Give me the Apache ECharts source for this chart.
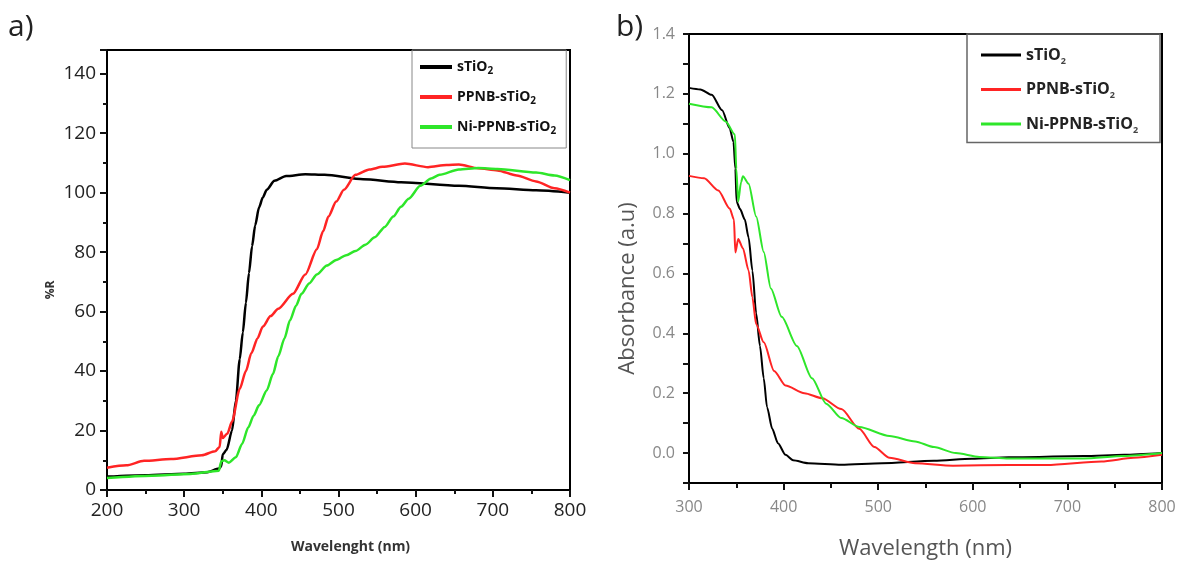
<!DOCTYPE html>
<html>
<head>
<meta charset="utf-8">
<script src="https://cdn.jsdelivr.net/npm/echarts@6/dist/echarts.min.js"></script>
<style>
    html, body { margin: 0; padding: 0; background: #fff; }
    #chart { width: 1183px; height: 565px; }
</style>
</head>
<body>
<div id="chart"></div>
<script>
// series names (shared by both panels)
const seriesNames = ['sTiO2', 'PPNB-sTiO2', 'Ni-PPNB-sTiO2']
const lineColors = ['#000000', '#ff2424', '#2ee62a']

// a) reflectance, %R vs wavelength (nm)
const reflBlack = [
    [200, 4.5], [250, 5], [300, 5.5], [330, 6], [345, 7.2], [348, 8], [350, 12], [355, 13.5],
    [362, 20], [367, 30], [372, 44], [376, 53], [380, 63], [384, 73], [388, 82], [392, 89],
    [397, 95], [402, 98.5], [407, 101], [417, 104], [432, 105.6], [457, 106.2], [482, 106],
    [532, 104.5], [581, 103.5], [656, 102.3], [705, 101.5], [756, 100.8], [800, 100]
]
const reflRed = [
    [200, 7.5], [225, 8.3], [248, 9.8], [283, 10.4], [323, 11.7], [340, 13], [346, 14.5],
    [348, 19.6], [350, 17.5], [356, 19], [362, 23], [372, 34], [380, 40], [387, 46], [395, 51],
    [402, 55], [412, 58.5], [422, 61], [441, 66], [457, 72.5], [472, 81], [480, 87], [487, 92],
    [497, 97], [507, 101], [522, 106], [540, 107.8], [557, 108.7], [586, 109.8], [616, 108.6],
    [640, 109.3], [656, 109.5], [681, 108.2], [706, 107.5], [731, 105.8], [756, 103.8], [780, 101.5], [800, 100]
]
const reflGreen = [
    [200, 4], [258, 4.8], [308, 5.4], [345, 6.5], [348, 9.6], [352, 10], [358, 9.2], [367, 11],
    [375, 15.5], [383, 21], [390, 25], [397, 28.5], [407, 33.5], [415, 39], [422, 45], [430, 51],
    [437, 57], [445, 62], [452, 66], [462, 69.5], [472, 72.5], [485, 75.5], [497, 77.4], [510, 79],
    [522, 80.4], [535, 82.5], [547, 85], [560, 88.5], [571, 92], [581, 95.3], [591, 98], [606, 102.3],
    [620, 104.8], [631, 106], [656, 107.8], [681, 108.3], [706, 108], [756, 106.8], [780, 105.8], [800, 104.2]
]

// b) absorbance (a.u) vs wavelength (nm)
const absBlack = [
    [300, 1.22], [312, 1.215], [324, 1.197], [335, 1.145], [343, 1.085], [347, 1.04], [349, 0.95],
    [350.3, 0.84], [354, 0.815], [359, 0.78], [363, 0.72], [367, 0.61], [371, 0.467], [375, 0.358],
    [379, 0.25], [382.5, 0.153], [388, 0.081], [394, 0.033], [402, -0.006], [410, -0.024],
    [426, -0.034], [461, -0.039], [504, -0.034], [559, -0.026], [599, -0.019], [638, -0.014],
    [717, -0.01], [760, -0.006], [800, 0]
]
const absRed = [
    [300, 0.926], [316, 0.918], [331, 0.877], [343, 0.817], [347.5, 0.78], [349, 0.67], [352, 0.715],
    [357, 0.684], [363, 0.61], [367, 0.52], [371, 0.43], [379, 0.37], [390, 0.274], [402, 0.226],
    [422, 0.2], [441, 0.183], [461, 0.147], [480, 0.081], [496, 0.02], [512, -0.016], [539, -0.034],
    [579, -0.042], [638, -0.04], [678, -0.04], [736, -0.028], [770, -0.016], [800, -0.006]
]
const absGreen = [
    [300, 1.167], [324, 1.155], [339, 1.107], [348.5, 1.064], [350, 0.95], [352, 0.84], [355, 0.905],
    [357, 0.925], [363, 0.9], [371, 0.79], [379, 0.672], [386.5, 0.55], [398, 0.455], [414, 0.358],
    [430, 0.25], [445, 0.165], [461, 0.117], [480, 0.087], [512, 0.057], [539, 0.039], [559, 0.02],
    [582, 0], [607, -0.013], [638, -0.018], [717, -0.018], [760, -0.01], [800, 0]
]

// tick settings
const leftXTicks = { min: 200, max: 800, interval: 100 }
const leftYTicks = { min: 0, max: 148, interval: 20 }
const rightXTicks = { min: 300, max: 800, interval: 100 }
const rightYTicks = { min: -0.1, max: 1.4, interval: 0.1 }

let myChart = echarts.init(document.getElementById('chart'))

const legendFormatter = (name) => name.slice(0, -1) + '{s|2}'

const mkLine = (name, data, color, xi, width) => ({
    name: name,
    type: 'line',
    xAxisIndex: xi,
    yAxisIndex: xi,
    data: data,
    showSymbol: false,
    symbol: 'none',
    smooth: 0.25,
    smoothMonotone: 'x',
    silent: true,
    lineStyle: { color: color, width: width },
    itemStyle: { color: color }
})

// axis line / ticks (black, outward)
const axLine = () => ({ show: true, lineStyle: { color: '#000', width: 2 } })
const axTick = (len) => ({ show: true, length: len, lineStyle: { color: '#111', width: 2 } })
const axMinor = (len) => ({ show: true, splitNumber: 2, length: len, lineStyle: { color: '#111', width: 2 } })

const options = {
    animation: false,
    grid: [
        { left: 107, top: 50, width: 463, height: 440, show: true, borderColor: '#000', borderWidth: 2 },
        { left: 689, top: 34, width: 473, height: 449, show: true, borderColor: '#000', borderWidth: 2 }
    ],
    legend: [
        {
            data: seriesNames,
            orient: 'vertical',
            left: 412,
            top: 50,
            itemWidth: 32,
            itemHeight: 4,
            icon: 'rect',
            itemGap: 14,
            padding: [10, 10, 12, 8],
            borderColor: '#888',
            borderWidth: 1,
            selectedMode: false,
            formatter: legendFormatter,
            textStyle: {
                fontSize: 14, fontWeight: 'bold', color: '#111', fontFamily: 'Open Sans',
                rich: { s: { fontSize: 10, fontWeight: 'bold', color: '#111', padding: [8, 0, 0, 0] } }
            }
        },
        {
            data: seriesNames,
            orient: 'vertical',
            left: 967,
            top: 34,
            itemWidth: 40,
            itemHeight: 3,
            icon: 'rect',
            itemGap: 16,
            padding: [13, 22, 8, 14],
            borderColor: '#666',
            borderWidth: 1.5,
            selectedMode: false,
            formatter: legendFormatter,
            textStyle: {
                fontSize: 16, fontWeight: 'bold', color: '#222', fontFamily: 'Open Sans',
                rich: { s: { fontSize: 9, color: '#444', padding: [12, 0, 0, 0] } }
            }
        }
    ],
    xAxis: [
        {
            type: 'value',
            gridIndex: 0,
            min: leftXTicks.min,
            max: leftXTicks.max,
            interval: leftXTicks.interval,
            name: 'Wavelenght (nm)',
            nameLocation: 'middle',
            nameGap: 50,
            nameTextStyle: { fontSize: 14, fontWeight: 'bold', color: '#333', fontFamily: 'Open Sans', padding: [0, 0, 0, 24] },
            axisLine: Object.assign(axLine(), { onZero: false }),
            axisTick: axTick(7),
            minorTick: axMinor(4),
            axisLabel: { fontSize: 19, color: '#222', margin: 11, fontFamily: 'Open Sans' },
            splitLine: { show: false }
        },
        {
            type: 'value',
            gridIndex: 1,
            min: rightXTicks.min,
            max: rightXTicks.max,
            interval: rightXTicks.interval,
            name: 'Wavelength (nm)',
            nameLocation: 'middle',
            nameGap: 55,
            nameTextStyle: { fontSize: 22, color: '#555', fontFamily: 'Open Sans' },
            axisLine: Object.assign(axLine(), { onZero: false }),
            axisTick: axTick(7),
            minorTick: axMinor(5),
            axisLabel: { fontSize: 16, color: '#888', margin: 16, fontFamily: 'Open Sans' },
            splitLine: { show: false }
        }
    ],
    yAxis: [
        {
            type: 'value',
            gridIndex: 0,
            min: leftYTicks.min,
            max: leftYTicks.max,
            interval: leftYTicks.interval,
            name: '%R',
            nameLocation: 'middle',
            nameGap: 50,
            nameRotate: 90,
            nameTextStyle: { fontSize: 12, fontWeight: 'bold', color: '#333', fontFamily: 'Open Sans', padding: [0, 40, 0, 0] },
            axisLine: axLine(),
            axisTick: axTick(7),
            minorTick: axMinor(4),
            axisLabel: { fontSize: 19, color: '#222', margin: 11, showMaxLabel: false, fontFamily: 'Open Sans' },
            splitLine: { show: false }
        },
        {
            type: 'value',
            gridIndex: 1,
            min: rightYTicks.min,
            max: rightYTicks.max,
            interval: rightYTicks.interval,
            name: 'Absorbance (a.u)',
            nameLocation: 'middle',
            nameGap: 50,
            nameRotate: 90,
            nameTextStyle: { fontSize: 22, color: '#555', fontFamily: 'Open Sans', padding: [0, 60, 0, 0] },
            axisLine: axLine(),
            axisTick: axTick(6),
            axisLabel: {
                fontSize: 16,
                color: '#888',
                margin: 14,
                fontFamily: 'Open Sans',
                formatter: (v) => {
                    let k = Math.round(v * 10)
                    return (k >= 0 && k % 2 === 0) ? (k / 10).toFixed(1) : ''
                }
            },
            splitLine: { show: false }
        }
    ],
    graphic: [
        { type: 'text', left: 8, top: 12, style: { text: 'a)', fontSize: 30, fill: '#222', fontFamily: 'Open Sans' } },
        { type: 'text', left: 616, top: 12, style: { text: 'b)', fontSize: 30, fill: '#222', fontFamily: 'Open Sans' } }
    ],
    series: [
        mkLine(seriesNames[0], reflBlack, lineColors[0], 0, 2.5),
        mkLine(seriesNames[1], reflRed, lineColors[1], 0, 2.5),
        mkLine(seriesNames[2], reflGreen, lineColors[2], 0, 2.5),
        mkLine(seriesNames[0], absBlack, lineColors[0], 1, 2),
        mkLine(seriesNames[1], absRed, lineColors[1], 1, 2),
        mkLine(seriesNames[2], absGreen, lineColors[2], 1, 2)
    ]
}

myChart.setOption(options)
window.addEventListener('resize', () => {
    myChart.resize()
})
</script>
</body>
</html>
